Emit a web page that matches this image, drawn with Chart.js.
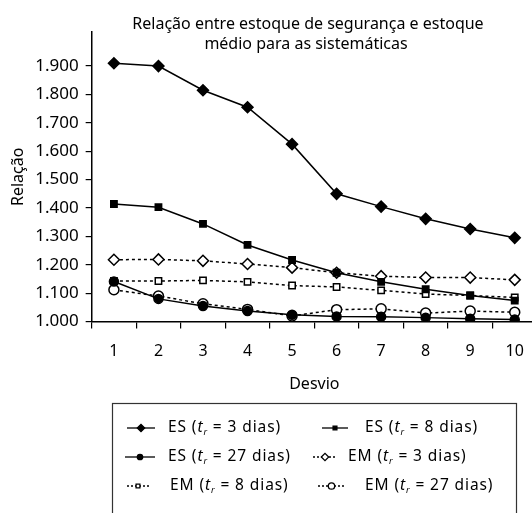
<!DOCTYPE html>
<html>
<head>
<meta charset="utf-8">
<script src="https://cdn.jsdelivr.net/npm/chart.js@4/dist/chart.umd.min.js"></script>
<style>
  html, body { margin: 0; padding: 0; background: #fff; overflow: hidden; }
  #wrap { width: 544px; height: 513px; }
</style>
</head>
<body>
<div id="wrap"><canvas id="relChart" width="544" height="513"></canvas></div>
<script>
// dados
var desvios = ['1', '2', '3', '4', '5', '6', '7', '8', '9', '10'];
var yTicks = [1.0, 1.1, 1.2, 1.3, 1.4, 1.5, 1.6, 1.7, 1.8, 1.9];

var es3  = [1.910, 1.900, 1.815, 1.755, 1.625, 1.450, 1.405, 1.362, 1.326, 1.295];
var es8  = [1.414, 1.403, 1.344, 1.270, 1.217, 1.172, 1.140, 1.114, 1.092, 1.074];
var es27 = [1.141, 1.080, 1.055, 1.037, 1.024, 1.018, 1.017, 1.014, 1.010, 1.007];
var em3  = [1.218, 1.219, 1.214, 1.203, 1.190, 1.172, 1.160, 1.155, 1.155, 1.147];
var em8  = [1.143, 1.143, 1.145, 1.140, 1.127, 1.122, 1.110, 1.097, 1.092, 1.085];
var em27 = [1.112, 1.090, 1.063, 1.043, 1.020, 1.042, 1.045, 1.030, 1.037, 1.033];

var FONT = '"Noto Sans", sans-serif';

function serie(nome, tr, dados, estilo, cheio, raio, tracejado) {
    return {
        label: nome,
        tr: tr,
        data: dados,
        borderColor: '#000',
        borderWidth: 1.5,
        borderDash: tracejado ? [3, 3] : [],
        pointStyle: estilo,
        pointRadius: raio,
        pointHoverRadius: raio,
        pointBackgroundColor: cheio ? '#000' : '#fff',
        pointBorderColor: '#000',
        pointBorderWidth: 1.5,
        fill: false,
        tension: 0
    };
}

// titulo e legenda desenhados a mão (t com índice r)
var extras = {
    id: 'extras',
    afterDraw: function (chart) {
        var c = chart.ctx;
        c.save();
        c.fillStyle = '#000';
        c.font = '16px ' + FONT;
        c.textAlign = 'center';
        c.textBaseline = 'alphabetic';
        c.fillText('Relação entre estoque de segurança e estoque', 308, 29);
        c.fillText('médio para as sistemáticas', 306, 49);

        // caixa da legenda
        c.strokeStyle = '#333';
        c.lineWidth = 1.2;
        c.strokeRect(112.5, 403.5, 404, 130);

        var pos = [
            { x0: 127, x1: 155, tx: 168, y: 428 },
            { x0: 322, x1: 348, tx: 365, y: 428 },
            { x0: 125, x1: 155, tx: 168, y: 457 },
            { x0: 313, x1: 337, tx: 348, y: 457 },
            { x0: 127, x1: 149, tx: 170, y: 486 },
            { x0: 318, x1: 345, tx: 365, y: 486 }
        ];
        chart.data.datasets.forEach(function (ds, i) {
            var p = pos[i];
            c.letterSpacing = '0px';
            c.strokeStyle = '#000';
            c.lineWidth = 1.3;
            c.setLineDash(ds.borderDash.length ? [2, 2] : []);
            c.beginPath();
            c.moveTo(p.x0, p.y);
            c.lineTo(p.x1, p.y);
            c.stroke();
            c.setLineDash([]);
            c.fillStyle = ds.pointBackgroundColor;
            c.strokeStyle = '#000';
            Chart.helpers.drawPoint(c, {
                pointStyle: ds.pointStyle,
                radius: ds.pointRadius - 1.8,
                borderWidth: 1.1
            }, (p.x0 + p.x1) / 2, p.y);

            // texto
            c.fillStyle = '#000';
            c.textAlign = 'left';
            c.textBaseline = 'middle';
            c.letterSpacing = '0.9px';
            var x = p.tx;
            var partes = [
                [ds.label + ' (', '15.5px ' + FONT, 0],
                ['t', 'italic 15.5px ' + FONT, 0],
                ['r', 'italic 9px ' + FONT, 4],
                [' = ' + ds.tr + ' dias)', '15.5px ' + FONT, 0]
            ];
            partes.forEach(function (pt) {
                c.font = pt[1];
                c.fillText(pt[0], x, p.y + pt[2]);
                x += c.measureText(pt[0]).width;
            });
        });
        c.restore();
    }
};

var ctx = document.getElementById('relChart').getContext('2d');
var relChart = new Chart(ctx, {
    type: 'line',
    data: {
        labels: desvios,
        datasets: [
            serie('ES', 3, es3, 'rectRot', true, 5.5, false),
            serie('ES', 8, es8, 'rect', true, 4.5, false),
            serie('ES', 27, es27, 'circle', true, 4.5, false),
            serie('EM', 3, em3, 'rectRot', false, 5.5, true),
            serie('EM', 8, em8, 'rect', false, 4.5, true),
            serie('EM', 27, em27, 'circle', false, 5, true)
        ]
    },
    plugins: [extras],
    options: {
        responsive: false,
        animation: false,
        devicePixelRatio: 1,
        layout: { padding: { top: 32, left: 9, right: 0, bottom: 119 } },
        plugins: {
            legend: { display: false },
            title: { display: false },
            tooltip: { enabled: false }
        },
        scales: {
            x: {
                offset: true,
                grid: {
                    offset: true,
                    drawOnChartArea: false,
                    drawTicks: true,
                    tickLength: 7,
                    color: '#000',
                    lineWidth: 1.2
                },
                border: { display: true, color: '#000', width: 1.5 },
                ticks: { color: '#000', font: { family: FONT, size: 16 }, padding: 13, maxRotation: 0 },
                title: {
                    display: true,
                    text: 'Desvio',
                    color: '#000',
                    font: { family: FONT, size: 16 },
                    padding: { top: 1, bottom: 0 }
                }
            },
            y: {
                min: 1.0,
                max: 2.02,
                afterBuildTicks: function (axis) {
                    axis.ticks = yTicks.map(function (v) { return { value: v }; });
                },
                grid: {
                    drawOnChartArea: false,
                    drawTicks: true,
                    tickLength: 6,
                    color: '#000',
                    lineWidth: 1.2
                },
                border: { display: true, color: '#000', width: 1.5 },
                ticks: {
                    color: '#000',
                    font: { family: FONT, size: 17 },
                    padding: 7,
                    callback: function (v) { return v.toFixed(3); }
                },
                title: {
                    display: true,
                    text: 'Relação',
                    color: '#000',
                    font: { family: FONT, size: 16 },
                    padding: { top: 0, bottom: 0 }
                }
            }
        }
    }
});
</script>
</body>
</html>
